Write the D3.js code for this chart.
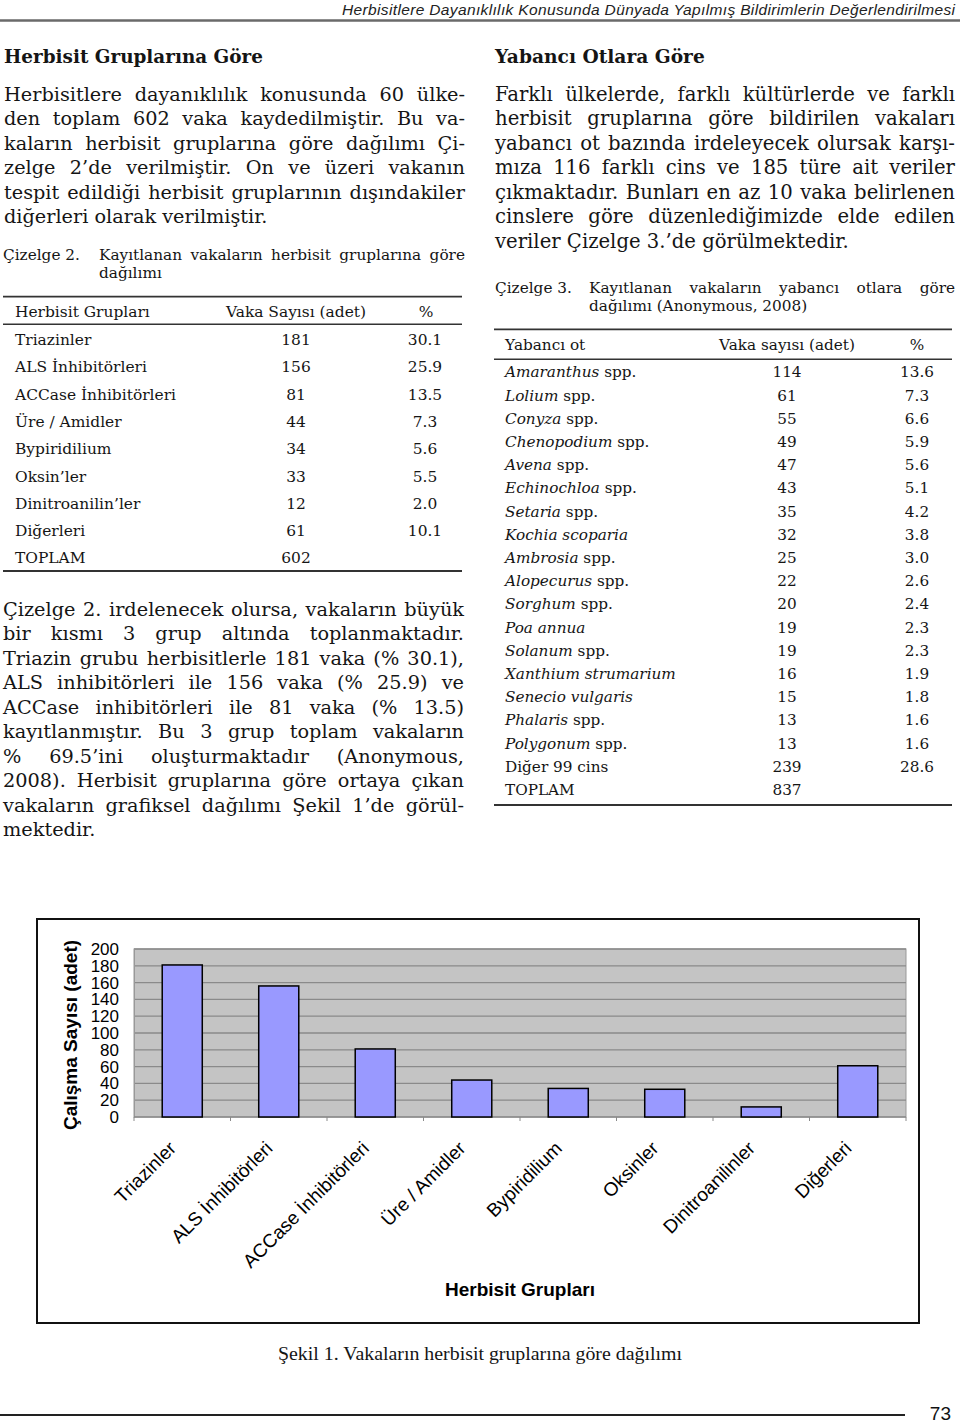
<!DOCTYPE html>
<html><head><meta charset="utf-8">
<script src="https://cdn.jsdelivr.net/npm/d3@7"></script>
<style>body{margin:0;background:#fff} svg{display:block}</style>
</head><body>
<svg id="page" width="960" height="1425"></svg>
<script>
// ---------- DATA ----------
const categories = ["Triazinler","ALS İnhibitörleri","ACCase İnhibitörleri","Üre / Amidler","Bypiridilium","Oksinler","Dinitroanilinler","Diğerleri"];
const caseCounts = [181,156,81,44,34,33,12,61];
const yTickValues = [0,20,40,60,80,100,120,140,160,180,200];

const table2Groups = ["Triazinler","ALS İnhibitörleri","ACCase İnhibitörleri","Üre / Amidler","Bypiridilium","Oksin’ler","Dinitroanilin’ler","Diğerleri","TOPLAM"];
const table2Counts = ["181","156","81","44","34","33","12","61","602"];
const table2Percents = ["30.1","25.9","13.5","7.3","5.6","5.5","2.0","10.1",""];

const table3Italic = ["Amaranthus","Lolium","Conyza","Chenopodium","Avena","Echinochloa","Setaria","Kochia scoparia","Ambrosia","Alopecurus","Sorghum","Poa annua","Solanum","Xanthium strumarium","Senecio vulgaris","Phalaris","Polygonum","",""];
const table3Plain = [" spp."," spp."," spp."," spp."," spp."," spp."," spp.",""," spp."," spp."," spp.",""," spp.","",""," spp."," spp.","Diğer 99 cins","TOPLAM"];
const table3Counts = ["114","61","55","49","47","43","35","32","25","22","20","19","19","16","15","13","13","239","837"];
const table3Percents = ["13.6","7.3","6.6","5.9","5.6","5.1","4.2","3.8","3.0","2.6","2.4","2.3","2.3","1.9","1.8","1.6","1.6","28.6",""];

const para1 = ["Herbisitlere dayanıklılık konusunda 60 ülke-","den toplam 602 vaka kaydedilmiştir. Bu va-","kaların herbisit gruplarına göre dağılımı Çi-","zelge 2’de verilmiştir. On ve üzeri vakanın","tespit edildiği herbisit gruplarının dışındakiler","diğerleri olarak verilmiştir."];
const para2 = ["Çizelge 2. irdelenecek olursa, vakaların büyük","bir kısmı 3 grup altında toplanmaktadır.","Triazin grubu herbisitlerle 181 vaka (% 30.1),","ALS inhibitörleri ile 156 vaka (% 25.9) ve","ACCase inhibitörleri ile 81 vaka (% 13.5)","kayıtlanmıştır. Bu 3 grup toplam vakaların","% 69.5’ini oluşturmaktadır (Anonymous,","2008). Herbisit gruplarına göre ortaya çıkan","vakaların grafiksel dağılımı Şekil 1’de görül-","mektedir."];
const para3 = ["Farklı ülkelerde, farklı kültürlerde ve farklı","herbisit gruplarına göre bildirilen vakaları","yabancı ot bazında irdeleyecek olursak karşı-","mıza 116 farklı cins ve 185 türe ait veriler","çıkmaktadır. Bunları en az 10 vaka belirlenen","cinslere göre düzenlediğimizde elde edilen","veriler Çizelge 3.’de görülmektedir."];

// ---------- HELPERS ----------
const svg = d3.select("#page");
const SERIF = "'DejaVu Serif', serif";
const SANS = "'Liberation Sans', Arial, sans-serif";
const TIMES = "'Liberation Serif', 'Times New Roman', serif";
const INK = "#151515";

function measure(text, font, size, weight, style) {
  const t = svg.append("text").attr("font-family", font).attr("font-size", size)
    .attr("font-weight", weight || "normal").attr("font-style", style || "normal").text(text);
  const w = t.node().getComputedTextLength(); t.remove(); return w;
}
function fitSize(text, font, width, weight, style) {
  return 20 * width / measure(text, font, 20, weight, style);
}
function paragraph(lines, x, y0, lh, width) {
  let ratio = 0;
  lines.slice(0, -1).forEach(l => { ratio = Math.max(ratio, measure(l, SERIF, 20) / width); });
  const fs = 20 / ratio * 0.985;
  lines.forEach((l, i) => {
    const t = svg.append("text").attr("x", x).attr("y", y0 + i * lh)
      .attr("font-family", SERIF).attr("font-size", fs).attr("fill", INK).text(l);
    if (i < lines.length - 1) {
      const w = t.node().getComputedTextLength();
      const n = (l.match(/ /g) || []).length;
      if (n) t.style("word-spacing", ((width - w) / n) + "px");
    }
  });
}
function justified(text, x, y, width, fs) {
  const t = svg.append("text").attr("x", x).attr("y", y).attr("font-family", SERIF)
    .attr("font-size", fs).attr("fill", INK).text(text);
  const w = t.node().getComputedTextLength();
  const n = (text.match(/ /g) || []).length;
  if (n) t.style("word-spacing", ((width - w) / n) + "px");
}
function txt(text, x, y, fs, opts = {}) {
  return svg.append("text").attr("x", x).attr("y", y).attr("font-family", opts.font || SERIF)
    .attr("font-size", fs).attr("font-weight", opts.weight || "normal")
    .attr("font-style", opts.style || "normal").attr("text-anchor", opts.anchor || "start")
    .attr("fill", opts.fill || INK).text(text);
}
function hline(x1, x2, y, w, c) {
  svg.append("line").attr("x1", x1).attr("x2", x2).attr("y1", y).attr("y2", y)
    .attr("stroke", c || "#222").attr("stroke-width", w || 1.5);
}

// ---------- PAGE HEADER ----------
const headerText = "Herbisitlere Dayanıklılık Konusunda Dünyada Yapılmış Bildirimlerin Değerlendirilmesi";
const HN = "'Liberation Sans Narrow', 'Liberation Sans', Arial, sans-serif";
txt(headerText, 342, 14.5, 15.5, {font: HN, style: "italic", fill: "#222"})
  .attr("textLength", 613).attr("lengthAdjust", "spacing");
hline(0, 960, 20.5, 2.5, "#6a6a6a");

// ---------- HEADINGS ----------
txt("Herbisit Gruplarına Göre", 4, 63, fitSize("Herbisit Gruplarına Göre", SERIF, 259, "bold"), {weight: "bold"});
txt("Yabancı Otlara Göre", 495, 63, fitSize("Yabancı Otlara Göre", SERIF, 210, "bold"), {weight: "bold"});

// ---------- PARAGRAPHS ----------
paragraph(para1, 4, 100.5, 24.5, 461);
paragraph(para2, 3, 615.5, 24.5, 461);
paragraph(para3, 495, 100.5, 24.5, 460);

// ---------- TABLE 2 ----------
const capFs = fitSize("Kayıtlanan vakaların herbisit gruplarına göre", SERIF, 352);
txt("Çizelge 2.", 3, 260, capFs);
justified("Kayıtlanan vakaların herbisit gruplarına göre", 99, 260, 366, capFs);
txt("dağılımı", 99, 278, capFs);

const t2fs = fitSize("ACCase İnhibitörleri", SERIF, 161);
hline(3, 462, 296.7, 1.8, "#333");
txt("Herbisit Grupları", 15, 316.5, t2fs);
txt("Vaka Sayısı (adet)", 296, 316.5, t2fs, {anchor: "middle"});
txt("%", 426, 316.5, t2fs, {anchor: "middle"});
hline(3, 462, 324.3, 1.5, "#333");
table2Groups.forEach((g, i) => {
  const y = 345 + i * 27.3;
  txt(g, 15, y, t2fs);
  txt(table2Counts[i], 296, y, t2fs, {anchor: "middle"});
  if (table2Percents[i]) txt(table2Percents[i], 425, y, t2fs, {anchor: "middle"});
});
hline(3, 462, 571, 1.8, "#333");

// ---------- TABLE 3 ----------
txt("Çizelge 3.", 495, 293, capFs);
justified("Kayıtlanan vakaların yabancı otlara göre", 589, 293, 366, capFs);
txt("dağılımı (Anonymous, 2008)", 589, 311, capFs);

const t3fs = fitSize("Xanthium strumarium", SERIF, 171, "normal", "italic");
hline(494, 952, 329.3, 1.8, "#333");
txt("Yabancı ot", 505, 350, t3fs);
txt("Vaka sayısı (adet)", 787, 350, t3fs, {anchor: "middle"});
txt("%", 917, 350, t3fs, {anchor: "middle"});
hline(494, 952, 359.3, 1.5, "#333");
table3Counts.forEach((c, i) => {
  const y = 377.3 + i * 23.2;
  const t = svg.append("text").attr("x", 505).attr("y", y).attr("font-family", SERIF)
    .attr("font-size", t3fs).attr("fill", INK);
  if (table3Italic[i]) t.append("tspan").attr("font-style", "italic").text(table3Italic[i]);
  if (table3Plain[i]) t.append("tspan").text(table3Plain[i]);
  txt(c, 787, y, t3fs, {anchor: "middle"});
  if (table3Percents[i]) txt(table3Percents[i], 917, y, t3fs, {anchor: "middle"});
});
hline(494, 952, 805, 1.8, "#333");

// ---------- CHART ----------
const plot = {left: 134, right: 906, top: 949, bottom: 1117};
svg.append("rect").attr("x", 37).attr("y", 919).attr("width", 919 - 37).attr("height", 1323 - 919)
  .attr("fill", "#fff").attr("stroke", "#111").attr("stroke-width", 2);

const x = d3.scaleBand().domain(categories).range([plot.left, plot.right])
  .paddingInner(0.585).paddingOuter(0.2925);
const y = d3.scaleLinear().domain([0, 200]).range([plot.bottom, plot.top]);

svg.append("rect").attr("x", plot.left).attr("y", plot.top)
  .attr("width", plot.right - plot.left).attr("height", plot.bottom - plot.top)
  .attr("fill", "#c4c4c4").attr("stroke", "#999").attr("stroke-width", 1);

svg.append("g").selectAll("line").data(yTickValues.filter(v => v > 0)).join("line")
  .attr("x1", plot.left).attr("x2", plot.right).attr("y1", d => y(d)).attr("y2", d => y(d))
  .attr("stroke", "#8a8a8a").attr("stroke-width", 1.3);

const yAxis = svg.append("g").attr("transform", `translate(${plot.left},0)`)
  .call(d3.axisLeft(y).tickValues(yTickValues).tickSize(0).tickPadding(15));
yAxis.select(".domain").attr("stroke", "#999");
yAxis.selectAll("text").attr("font-family", SANS).attr("font-size", 17).attr("fill", "#000");

hline(plot.left, plot.right, plot.bottom, 1.3, "#8a8a8a");
const boundaries = d3.range(categories.length + 1).map(i => plot.left + i * x.step());
svg.append("g").selectAll("line").data(boundaries).join("line")
  .attr("x1", d => d).attr("x2", d => d).attr("y1", plot.bottom).attr("y2", plot.bottom + 4)
  .attr("stroke", "#8a8a8a").attr("stroke-width", 1);

svg.append("g").selectAll("rect").data(categories).join("rect")
  .attr("x", d => x(d)).attr("width", x.bandwidth())
  .attr("y", (d, i) => y(caseCounts[i])).attr("height", (d, i) => plot.bottom - y(caseCounts[i]))
  .attr("fill", "#9999ff").attr("stroke", "#000").attr("stroke-width", 1.5);

svg.append("g").selectAll("text").data(categories).join("text")
  .attr("transform", d => `translate(${x(d) + x.bandwidth() / 2 - 5},1149.5) rotate(-45)`)
  .attr("text-anchor", "end").attr("font-family", SANS).attr("font-size", 19).attr("fill", "#000")
  .text(d => d);

svg.append("text").attr("transform", "translate(77,1035) rotate(-90)").attr("text-anchor", "middle")
  .attr("font-family", SANS).attr("font-size", 19).attr("font-weight", "bold").attr("fill", "#000")
  .text("Çalışma Sayısı (adet)");
svg.append("text").attr("x", (plot.left + plot.right) / 2).attr("y", 1296).attr("text-anchor", "middle")
  .attr("font-family", SANS).attr("font-size", 19).attr("font-weight", "bold").attr("fill", "#000")
  .text("Herbisit Grupları");

// caption
const capText = "Şekil 1. Vakaların herbisit gruplarına göre dağılımı";
txt(capText, 278, 1360, fitSize(capText, TIMES, 404), {font: TIMES});

// ---------- FOOTER ----------
hline(0, 905, 1415, 2, "#222");
txt("73", 951, 1420, 19, {font: HN, anchor: "end", fill: "#111"});
</script>
</body></html>
